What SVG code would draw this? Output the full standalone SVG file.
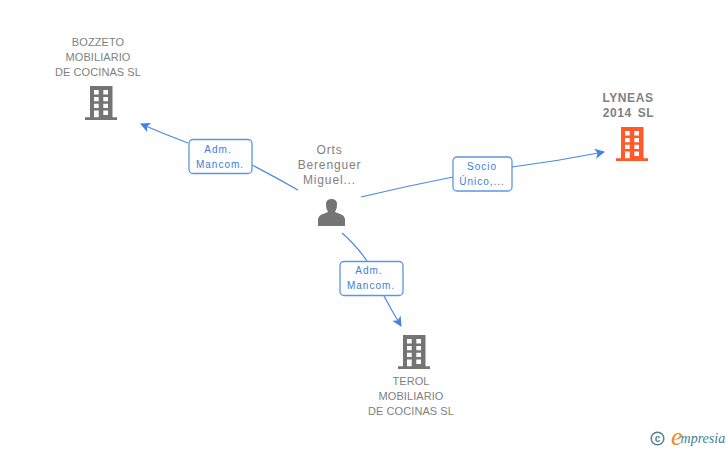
<svg xmlns="http://www.w3.org/2000/svg" width="728" height="450" viewBox="0 0 728 450">
<style>
text{font-family:"Liberation Sans",Arial,sans-serif;text-anchor:middle}
.co{font-size:11px;fill:#7f7f7f;letter-spacing:.08px}
.pe{font-size:12px;fill:#7f7f7f;letter-spacing:.85px}
.ta{font-size:12px;font-weight:bold;fill:#7f7f7f;letter-spacing:.6px;word-spacing:2px}
.lb{font-size:10px;fill:#3b7de0;letter-spacing:1px}
.box{fill:#fff;stroke:#5b95e6;stroke-width:1.3}
.ln{fill:none;stroke:#4a88e2;stroke-width:1.2}
</style>
<defs>
<marker id="ah" markerWidth="12" markerHeight="12" refX="9" refY="5" orient="auto" markerUnits="userSpaceOnUse">
<path d="M0 0L10 5L0 10L2.5 5Z" fill="#3f82e4"/>
</marker>
<symbol id="bld" viewBox="0 0 32 34" width="32" height="34" overflow="visible">
<path fill-rule="evenodd" d="M5 0H27.500V31.300H32V34H0V31.300H5ZM9 4V8.500H13.700V4ZM18.300 4V8.500H23V4ZM9 11V15.300H13.700V11ZM18.300 11V15.300H23V11ZM9 17.700V22H13.700V17.700ZM18.300 17.700V22H23V17.700ZM9 24.500V31.300H13.700V24.500ZM18.300 24.500V29H23V24.500Z"/>
</symbol>
</defs>
<rect width="728" height="450" fill="#fff"/>
<g id="connectors">
<path class="ln" d="M298 190Q275 177 252 165" />
<path class="ln" marker-end="url(#ah)" d="M188 143Q164 134 141 124"/>
<path class="ln" d="M361 197Q407 186 453 177"/>
<path class="ln" marker-end="url(#ah)" d="M512 167Q558 161 604 152"/>
<path class="ln" d="M342 233Q356 245 367 261"/>
<path class="ln" marker-end="url(#ah)" d="M384 296Q392 311 401 326"/>
</g>
<g id="edge-label-1"><rect class="box" x="189" y="139.500" width="63" height="34" rx="4"/><text class="lb" x="218" y="153">Adm.</text><text class="lb" x="220" y="168">Mancom.</text></g>
<g id="edge-label-2"><rect class="box" x="453" y="157" width="59" height="34" rx="4"/><text class="lb" x="482" y="170">Socio</text><text class="lb" x="482" y="185">Único,...</text></g>
<g id="edge-label-3"><rect class="box" x="340" y="261.500" width="63" height="34" rx="4"/><text class="lb" x="369" y="274">Adm.</text><text class="lb" x="371" y="289">Mancom.</text></g>
<g id="node-bozzeto"><text class="co" x="98" y="46">BOZZETO</text><text class="co" x="98" y="61">MOBILIARIO</text><text class="co" x="98" y="76">DE COCINAS SL</text><use href="#bld" x="85" y="86" fill="#747474"/></g>
<g id="node-lyneas"><text class="ta" x="628" y="102">LYNEAS</text><text class="ta" x="628.500" y="117">2014 SL</text><use href="#bld" x="616" y="127" fill="#ff5a2c"/></g>
<g id="node-terol"><use href="#bld" x="398" y="335" fill="#747474"/><text class="co" x="411" y="385">TEROL</text><text class="co" x="411" y="400">MOBILIARIO</text><text class="co" x="411" y="415">DE COCINAS SL</text></g>
<g id="node-orts"><text class="pe" x="329.500" y="154">Orts</text><text class="pe" x="329.500" y="169">Berenguer</text><text class="pe" x="329.500" y="184">Miguel...</text>
<path fill="#747474" d="M318 226V219Q319 215 323 214L328 212Q325.500 208 326 203Q327 199 331.500 199Q336 199 337 203Q337.500 208 335 212L340 214Q344 215 345 219V226Z"/></g>
<g id="credit"><circle cx="657.500" cy="438.500" r="6.300" fill="none" stroke="#4f8296" stroke-width="1.500"/><text x="657.500" y="441.800" style="font-size:10px;fill:#4f8296;font-weight:bold">c</text><text x="671" y="443" style="text-anchor:start;font-family:'Liberation Serif',serif;font-size:14px;font-style:italic;fill:#3e7f96"><tspan dy="2" style="font-size:26px;fill:#f08a1d">e</tspan><tspan dy="-2" dx="-2">mpresia</tspan></text></g>
</svg>
